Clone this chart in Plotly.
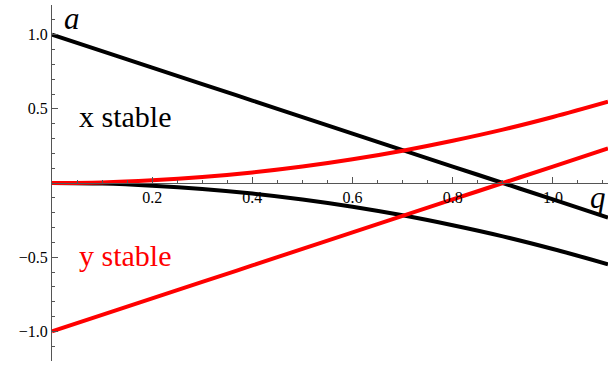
import plotly.graph_objects as go

# values at q = 0, 0.1, ..., 1.0, 1.11
q = [0.0, 0.1, 0.2, 0.3, 0.4, 0.5, 0.6, 0.7, 0.8, 0.9, 1.0, 1.11]
black_line = [1.0, 0.889, 0.778, 0.667, 0.556, 0.444, 0.333, 0.222, 0.111, 0.0, -0.111, -0.233]
black_curve = [0.0, -0.004, -0.018, -0.040, -0.071, -0.111, -0.160, -0.218, -0.285, -0.360, -0.445, -0.548]
red_curve = [0.0, 0.004, 0.018, 0.040, 0.071, 0.111, 0.160, 0.218, 0.285, 0.360, 0.445, 0.548]
red_line = [-1.0, -0.889, -0.778, -0.667, -0.556, -0.444, -0.333, -0.222, -0.111, 0.0, 0.111, 0.233]

x_ticks = [0.2, 0.4, 0.6, 0.8, 1.0]
x_labels = ["0.2", "0.4", "0.6", "0.8", "1.0"]
y_ticks = [-1.0, -0.5, 0.5, 1.0]
y_labels = ["\u22121.0", "\u22120.5", "0.5", "1.0"]

SERIF = "Liberation Serif"
AXIS = "#555555"

fig = go.Figure()
for ys, col in [(black_line, "black"), (black_curve, "black"),
                (red_curve, "#ff0000"), (red_line, "#ff0000")]:
    fig.add_trace(go.Scatter(x=q, y=ys, mode="lines",
                             line=dict(color=col, width=4, shape="spline"),
                             showlegend=False, hoverinfo="skip"))

fig.add_annotation(x=0.04, y=1.11, text="<i>a</i>", showarrow=False,
                   font=dict(family=SERIF, size=31, color="black"))
fig.add_annotation(x=1.0, xref="paper", y=-0.1, text="<i>q</i>", showarrow=False,
                   xanchor="right", font=dict(family=SERIF, size=31, color="black"))
fig.add_annotation(x=0.05, y=0.445, text="x stable", showarrow=False, xanchor="left",
                   font=dict(family=SERIF, size=30, color="black"))
fig.add_annotation(x=0.05, y=-0.49, text="y stable", showarrow=False, xanchor="left",
                   font=dict(family=SERIF, size=30, color="#ff0000"))

fig.update_layout(
    width=608, height=365,
    margin=dict(l=52, r=0, t=5, b=4),
    plot_bgcolor="white", paper_bgcolor="white",
    font=dict(family=SERIF, size=16, color="black"),
    xaxis=dict(range=[0, 1.11], anchor="free", position=0.5, automargin=False,
               showgrid=False, zeroline=False,
               showline=True, linecolor=AXIS, linewidth=1,
               tickvals=x_ticks, ticktext=x_labels,
               ticks="inside", ticklen=6, tickcolor=AXIS,
               minor=dict(ticks="inside", dtick=0.05, tick0=0, ticklen=3, tickcolor=AXIS)),
    yaxis=dict(range=[-1.2, 1.2], automargin=False, showgrid=False, zeroline=False,
               showline=True, linecolor=AXIS, linewidth=1,
               tickvals=y_ticks, ticktext=y_labels,
               ticks="inside", ticklen=6, tickcolor=AXIS,
               minor=dict(ticks="inside", dtick=0.1, tick0=0, ticklen=3, tickcolor=AXIS)),
)

# the page body has a default 8px margin; drop it so the figure fills the window
fig.write_html("out.html", config={"displayModeBar": False},
               post_script="document.body.style.margin='0';")
